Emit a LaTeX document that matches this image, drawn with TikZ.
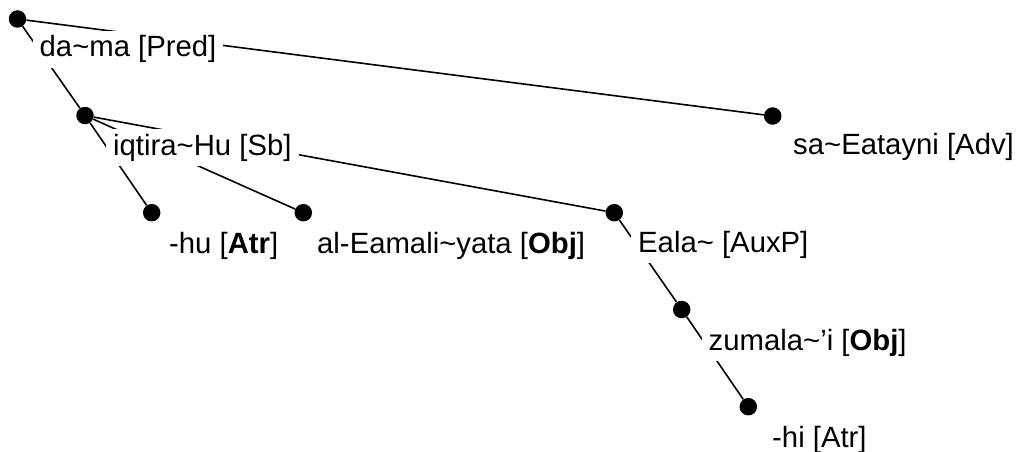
\documentclass[tikz,border=0pt]{standalone}
\usepackage{fontspec}
\setmainfont{Liberation Sans}
\begin{document}
\begin{tikzpicture}[x=1pt,y=-1pt,
  dot/.style={circle,fill=black,inner sep=0pt,minimum size=17.5pt},
  edge/.style={line width=1.6pt,black},
  lab/.style={anchor=base west,fill=white,inner xsep=7pt,inner ysep=5pt,
    text height=21.3pt,text depth=6.2pt,font=\fontsize{29.3}{35}\selectfont}]
\useasboundingbox (0,0) rectangle (1018,452);
% dots
\node[dot] (d1) at (17.5,19) {};
\node[dot] (d2) at (85,115.5) {};
\node[dot] (d3) at (772.7,116) {};
\node[dot] (d4) at (151.7,212.7) {};
\node[dot] (d5) at (303.3,212.7) {};
\node[dot] (d6) at (614.3,212.7) {};
\node[dot] (d7) at (681.7,309.5) {};
\node[dot] (d8) at (748.3,406.7) {};
% edges
\draw[edge] (d1) -- (d2);
\draw[edge] (d1) -- (d3);
\draw[edge] (d2) -- (d4);
\draw[edge] (d2) -- (d5);
\draw[edge] (d2) -- (d6);
\draw[edge] (d6) -- (d7);
\draw[edge] (d7) -- (d8);
% labels
\node[lab] (l1) at (32.5,57) {da\textasciitilde ma [Pred]};
\node[lab] (l2) at (106,155) {iqtira\textasciitilde Hu [Sb]};
\node[lab] (l3) at (786,154) {sa\textasciitilde Eatayni [Adv]};
\node[lab] (l4) at (162,253) {-hu [\textbf{Atr}]};
\node[lab] (l5) at (310,253) {al-Eamali\textasciitilde yata [\textbf{Obj}]};
\node[lab] (l6) at (631,252) {Eala\textasciitilde\ [AuxP]};
\node[lab] (l7) at (701.5,350) {zumala\textasciitilde'i [\textbf{Obj}]};
\node[lab] (l8) at (765,447) {-hi [Atr]};
\end{tikzpicture}
\end{document}
